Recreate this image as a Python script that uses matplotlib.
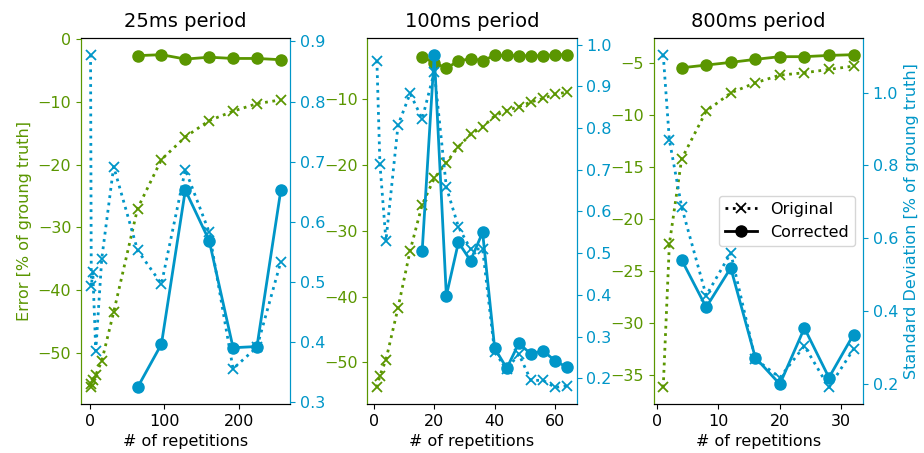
import matplotlib
matplotlib.use("Agg")
import matplotlib.pyplot as plt
from matplotlib.lines import Line2D

GREEN = "#5a9600"
BLUE = "#0096c8"

titles = ["25ms period", "100ms period", "800ms period"]

# Panel 1: 25ms
x1_orig = [1, 2, 4, 8, 16, 32, 64, 96, 128, 160, 192, 224, 256]
err1_orig = [-55.5, -55.0, -54.3, -53.5, -51.3, -43.5, -27.0, -19.2, -15.6, -13.0, -11.5, -10.3, -9.7]
std1_orig = [0.878, 0.493, 0.517, 0.386, 0.539, 0.692, 0.553, 0.497, 0.687, 0.583, 0.356, 0.392, 0.534]
x1_corr = [64, 96, 128, 160, 192, 224, 256]
err1_corr = [-2.65, -2.5, -3.2, -2.9, -3.1, -3.1, -3.3]
std1_corr = [0.325, 0.397, 0.653, 0.569, 0.391, 0.393, 0.653]

# Panel 2: 100ms
x2_orig = [1, 2, 4, 8, 12, 16, 20, 24, 28, 32, 36, 40, 44, 48, 52, 56, 60, 64]
err2_orig = [-53.8, -52.0, -49.6, -41.7, -33.0, -26.0, -22.0, -19.6, -17.2, -15.3, -14.2,
             -12.5, -11.7, -11.1, -10.4, -9.85, -9.2, -8.9]
std2_orig = [0.962, 0.715, 0.530, 0.807, 0.883, 0.822, 0.935, 0.658, 0.563, 0.510, 0.510,
             0.262, 0.222, 0.258, 0.195, 0.195, 0.178, 0.182]
x2_corr = [16, 20, 24, 28, 32, 36, 40, 44, 48, 52, 56, 60, 64]
err2_corr = [-3.58, -4.4, -5.26, -4.14, -3.83, -4.1, -3.32, -3.3, -3.37, -3.37, -3.37, -3.2, -3.2]
std2_corr = [0.506, 0.976, 0.398, 0.526, 0.482, 0.550, 0.272, 0.224, 0.284, 0.258, 0.266, 0.242, 0.226]

# Panel 3: 800ms
x3_orig = [1, 2, 4, 8, 12, 16, 20, 24, 28, 32]
err3_orig = [-36.2, -22.4, -14.2, -9.6, -7.84, -6.87, -6.13, -5.9, -5.58, -5.26]
std3_orig = [1.104, 0.870, 0.686, 0.443, 0.560, 0.269, 0.218, 0.305, 0.191, 0.296]
x3_corr = [4, 8, 12, 16, 20, 24, 28, 32]
err3_corr = [-5.42, -5.16, -4.9, -4.61, -4.35, -4.35, -4.23, -4.16]
std3_corr = [0.541, 0.411, 0.519, 0.273, 0.200, 0.354, 0.218, 0.336]

panels = [
    (x1_orig, err1_orig, std1_orig, x1_corr, err1_corr, std1_corr),
    (x2_orig, err2_orig, std2_orig, x2_corr, err2_corr, std2_corr),
    (x3_orig, err3_orig, std3_orig, x3_corr, err3_corr, std3_corr),
]

plt.rcParams["font.size"] = 11.5
plt.rcParams["font.family"] = ["DejaVu Sans"]

fig, axes = plt.subplots(1, 3, figsize=(9.24, 4.53), dpi=100)
fig.subplots_adjust(left=0.0877, right=0.934, bottom=0.108, top=0.916, wspace=0.368)

LW = 2.0
MS = 8
XMS = 7.5

for i, (ax, (xo, eo, so, xc, ec, sc)) in enumerate(zip(axes, panels)):
    ax2 = ax.twinx()
    ax.plot(xo, eo, ":", color=GREEN, marker="x", lw=LW, ms=XMS, mew=1.3)
    ax.plot(xc, ec, "-", color=GREEN, marker="o", lw=LW, ms=MS)
    ax2.plot(xo, so, ":", color=BLUE, marker="x", lw=LW, ms=XMS, mew=1.3)
    ax2.plot(xc, sc, "-", color=BLUE, marker="o", lw=LW, ms=MS)

    ax.set_title(titles[i], fontsize=14, pad=8)
    ax.set_xlabel("# of repetitions")
    ax.tick_params(axis="y", colors=GREEN)
    ax2.tick_params(axis="y", colors=BLUE)
    ax2.spines["left"].set_color(GREEN)
    ax2.spines["right"].set_color(BLUE)
    ax.spines["left"].set_color(GREEN)
    ax.spines["right"].set_color(BLUE)
    if i == 0:
        ax.set_ylabel("Error [% of groung truth]", color=GREEN)
    if i == 2:
        ax2.set_ylabel("Standard Deviation [% of groung truth]", color=BLUE)
        handles = [
            Line2D([], [], color="black", ls=":", marker="x", lw=LW, ms=XMS, mew=1.3),
            Line2D([], [], color="black", ls="-", marker="o", lw=LW, ms=MS),
        ]
        ax2.legend(handles, ["Original", "Corrected"], loc="center right")

fig.savefig("out.png", dpi=100)
